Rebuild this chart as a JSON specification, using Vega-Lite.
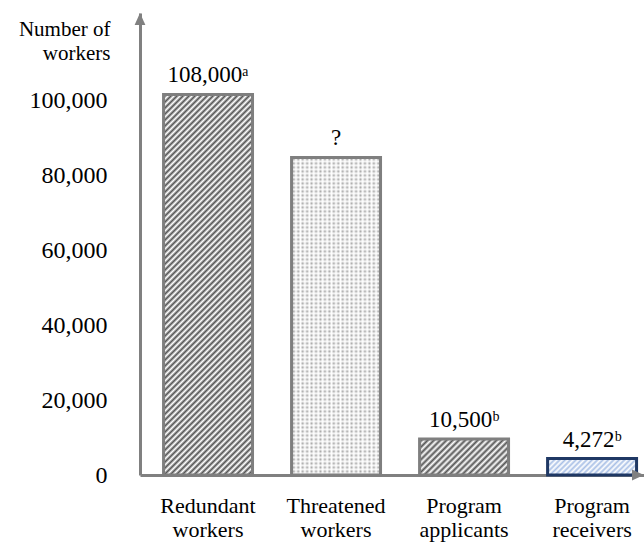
{
  "$schema": "https://vega.github.io/schema/vega-lite/v6.json",
  "width": 504,
  "height": 462,
  "autosize": {"type": "none"},
  "padding": {"left": 140, "top": 13, "right": 0, "bottom": 68},
  "background": "white",
  "config": {"view": {"stroke": null}, "font": "Liberation Serif, Times New Roman, DejaVu Serif, serif",
    "axisY": {"grid": false, "ticks": false,
      "domainColor": "#808080", "domainWidth": 3, "labelFontSize": 24, "labelPadding": 33, "labelColor": "#000",
      "labelFont": "Liberation Serif, Times New Roman, DejaVu Serif, serif",
      "titleAngle": 0, "titleAlign": "right", "titleBaseline": "alphabetic",
      "titleX": -30, "titleY": 22, "titleFontSize": 21, "titleFontWeight": "normal", "titleLineHeight": 24,
      "titleColor": "#000", "titleFont": "Liberation Serif, Times New Roman, DejaVu Serif, serif"}},
  "data": {"values": [
    {"category": "Redundant workers", "workers": 101500, "label": "108,000ᵃ"},
    {"category": "Threatened workers", "workers": 84700, "label": "?"},
    {"category": "Program applicants", "workers": 9600, "label": "10,500ᵇ"},
    {"category": "Program receivers", "workers": 4400, "label": "4,272ᵇ"}
  ]},
  "encoding": {
    "x": {
      "field": "category", "type": "nominal", "sort": null,
      "scale": {"paddingInner": 0.305, "paddingOuter": 0.121, "align": 0.76},
      "axis": {"title": null, "domainColor": "#808080", "domainWidth": 3, "ticks": false, "labelAngle": 0,
        "labelFont": "Liberation Serif, Times New Roman, DejaVu Serif, serif",
        "labelFontSize": 22, "labelColor": "#000", "labelPadding": 20, "labelLineHeight": 24,
        "labelExpr": "split(datum.label, ' ')", "labelBaseline": "top"}
    }
  },
  "layer": [
    {
      "mark": {"type": "bar", "strokeWidth": 0},
      "encoding": {
        "y": {"field": "workers", "type": "quantitative", "scale": {"domain": [0, 123200], "nice": false}, "axis": {"title": ["Number of", "workers"], "values": [0, 20000, 40000, 60000, 80000, 100000], "format": ",.0f"}},
        "fill": {
          "condition": [
            {"test": "datum.category === 'Redundant workers'", "value": {"gradient": "linear", "x1": 0, "y1": 0, "x2": 0.2795, "y2": 1.1958, "stops": [
              {"offset":0,"color":"#fff"},{"offset":0.00625,"color":"#555"},{"offset":0.0125,"color":"#fff"},{"offset":0.01875,"color":"#555"},{"offset":0.025,"color":"#fff"},{"offset":0.03125,"color":"#555"},{"offset":0.0375,"color":"#fff"},{"offset":0.04375,"color":"#555"},{"offset":0.05,"color":"#fff"},{"offset":0.05625,"color":"#555"},{"offset":0.0625,"color":"#fff"},{"offset":0.06875,"color":"#555"},{"offset":0.075,"color":"#fff"},{"offset":0.08125,"color":"#555"},{"offset":0.0875,"color":"#fff"},{"offset":0.09375,"color":"#555"},
              {"offset":0.1,"color":"#fff"},{"offset":0.10625,"color":"#555"},{"offset":0.1125,"color":"#fff"},{"offset":0.11875,"color":"#555"},{"offset":0.125,"color":"#fff"},{"offset":0.13125,"color":"#555"},{"offset":0.1375,"color":"#fff"},{"offset":0.14375,"color":"#555"},{"offset":0.15,"color":"#fff"},{"offset":0.15625,"color":"#555"},{"offset":0.1625,"color":"#fff"},{"offset":0.16875,"color":"#555"},{"offset":0.175,"color":"#fff"},{"offset":0.18125,"color":"#555"},{"offset":0.1875,"color":"#fff"},{"offset":0.19375,"color":"#555"},
              {"offset":0.2,"color":"#fff"},{"offset":0.20625,"color":"#555"},{"offset":0.2125,"color":"#fff"},{"offset":0.21875,"color":"#555"},{"offset":0.225,"color":"#fff"},{"offset":0.23125,"color":"#555"},{"offset":0.2375,"color":"#fff"},{"offset":0.24375,"color":"#555"},{"offset":0.25,"color":"#fff"},{"offset":0.25625,"color":"#555"},{"offset":0.2625,"color":"#fff"},{"offset":0.26875,"color":"#555"},{"offset":0.275,"color":"#fff"},{"offset":0.28125,"color":"#555"},{"offset":0.2875,"color":"#fff"},{"offset":0.29375,"color":"#555"},
              {"offset":0.3,"color":"#fff"},{"offset":0.30625,"color":"#555"},{"offset":0.3125,"color":"#fff"},{"offset":0.31875,"color":"#555"},{"offset":0.325,"color":"#fff"},{"offset":0.33125,"color":"#555"},{"offset":0.3375,"color":"#fff"},{"offset":0.34375,"color":"#555"},{"offset":0.35,"color":"#fff"},{"offset":0.35625,"color":"#555"},{"offset":0.3625,"color":"#fff"},{"offset":0.36875,"color":"#555"},{"offset":0.375,"color":"#fff"},{"offset":0.38125,"color":"#555"},{"offset":0.3875,"color":"#fff"},{"offset":0.39375,"color":"#555"},
              {"offset":0.4,"color":"#fff"},{"offset":0.40625,"color":"#555"},{"offset":0.4125,"color":"#fff"},{"offset":0.41875,"color":"#555"},{"offset":0.425,"color":"#fff"},{"offset":0.43125,"color":"#555"},{"offset":0.4375,"color":"#fff"},{"offset":0.44375,"color":"#555"},{"offset":0.45,"color":"#fff"},{"offset":0.45625,"color":"#555"},{"offset":0.4625,"color":"#fff"},{"offset":0.46875,"color":"#555"},{"offset":0.475,"color":"#fff"},{"offset":0.48125,"color":"#555"},{"offset":0.4875,"color":"#fff"},{"offset":0.49375,"color":"#555"},
              {"offset":0.5,"color":"#fff"},{"offset":0.50625,"color":"#555"},{"offset":0.5125,"color":"#fff"},{"offset":0.51875,"color":"#555"},{"offset":0.525,"color":"#fff"},{"offset":0.53125,"color":"#555"},{"offset":0.5375,"color":"#fff"},{"offset":0.54375,"color":"#555"},{"offset":0.55,"color":"#fff"},{"offset":0.55625,"color":"#555"},{"offset":0.5625,"color":"#fff"},{"offset":0.56875,"color":"#555"},{"offset":0.575,"color":"#fff"},{"offset":0.58125,"color":"#555"},{"offset":0.5875,"color":"#fff"},{"offset":0.59375,"color":"#555"},
              {"offset":0.6,"color":"#fff"},{"offset":0.60625,"color":"#555"},{"offset":0.6125,"color":"#fff"},{"offset":0.61875,"color":"#555"},{"offset":0.625,"color":"#fff"},{"offset":0.63125,"color":"#555"},{"offset":0.6375,"color":"#fff"},{"offset":0.64375,"color":"#555"},{"offset":0.65,"color":"#fff"},{"offset":0.65625,"color":"#555"},{"offset":0.6625,"color":"#fff"},{"offset":0.66875,"color":"#555"},{"offset":0.675,"color":"#fff"},{"offset":0.68125,"color":"#555"},{"offset":0.6875,"color":"#fff"},{"offset":0.69375,"color":"#555"},
              {"offset":0.7,"color":"#fff"},{"offset":0.70625,"color":"#555"},{"offset":0.7125,"color":"#fff"},{"offset":0.71875,"color":"#555"},{"offset":0.725,"color":"#fff"},{"offset":0.73125,"color":"#555"},{"offset":0.7375,"color":"#fff"},{"offset":0.74375,"color":"#555"},{"offset":0.75,"color":"#fff"},{"offset":0.75625,"color":"#555"},{"offset":0.7625,"color":"#fff"},{"offset":0.76875,"color":"#555"},{"offset":0.775,"color":"#fff"},{"offset":0.78125,"color":"#555"},{"offset":0.7875,"color":"#fff"},{"offset":0.79375,"color":"#555"},
              {"offset":0.8,"color":"#fff"},{"offset":0.80625,"color":"#555"},{"offset":0.8125,"color":"#fff"},{"offset":0.81875,"color":"#555"},{"offset":0.825,"color":"#fff"},{"offset":0.83125,"color":"#555"},{"offset":0.8375,"color":"#fff"},{"offset":0.84375,"color":"#555"},{"offset":0.85,"color":"#fff"},{"offset":0.85625,"color":"#555"},{"offset":0.8625,"color":"#fff"},{"offset":0.86875,"color":"#555"},{"offset":0.875,"color":"#fff"},{"offset":0.88125,"color":"#555"},{"offset":0.8875,"color":"#fff"},{"offset":0.89375,"color":"#555"},
              {"offset":0.9,"color":"#fff"},{"offset":0.90625,"color":"#555"},{"offset":0.9125,"color":"#fff"},{"offset":0.91875,"color":"#555"},{"offset":0.925,"color":"#fff"},{"offset":0.93125,"color":"#555"},{"offset":0.9375,"color":"#fff"},{"offset":0.94375,"color":"#555"},{"offset":0.95,"color":"#fff"},{"offset":0.95625,"color":"#555"},{"offset":0.9625,"color":"#fff"},{"offset":0.96875,"color":"#555"},{"offset":0.975,"color":"#fff"},{"offset":0.98125,"color":"#555"},{"offset":0.9875,"color":"#fff"},{"offset":0.99375,"color":"#555"},
              {"offset":1,"color":"#fff"}]}},
            {"test": "datum.category === 'Threatened workers'", "value": {"gradient": "linear", "x1": 0, "y1": 0, "x2": 1, "y2": 0, "stops": [
              {"offset":0,"color":"#fff"},{"offset":0.025,"color":"#a8a8a8"},{"offset":0.05,"color":"#fff"},{"offset":0.075,"color":"#a8a8a8"},
              {"offset":0.1,"color":"#fff"},{"offset":0.125,"color":"#a8a8a8"},{"offset":0.15,"color":"#fff"},{"offset":0.175,"color":"#a8a8a8"},
              {"offset":0.2,"color":"#fff"},{"offset":0.225,"color":"#a8a8a8"},{"offset":0.25,"color":"#fff"},{"offset":0.275,"color":"#a8a8a8"},
              {"offset":0.3,"color":"#fff"},{"offset":0.325,"color":"#a8a8a8"},{"offset":0.35,"color":"#fff"},{"offset":0.375,"color":"#a8a8a8"},
              {"offset":0.4,"color":"#fff"},{"offset":0.425,"color":"#a8a8a8"},{"offset":0.45,"color":"#fff"},{"offset":0.475,"color":"#a8a8a8"},
              {"offset":0.5,"color":"#fff"},{"offset":0.525,"color":"#a8a8a8"},{"offset":0.55,"color":"#fff"},{"offset":0.575,"color":"#a8a8a8"},
              {"offset":0.6,"color":"#fff"},{"offset":0.625,"color":"#a8a8a8"},{"offset":0.65,"color":"#fff"},{"offset":0.675,"color":"#a8a8a8"},
              {"offset":0.7,"color":"#fff"},{"offset":0.725,"color":"#a8a8a8"},{"offset":0.75,"color":"#fff"},{"offset":0.775,"color":"#a8a8a8"},
              {"offset":0.8,"color":"#fff"},{"offset":0.825,"color":"#a8a8a8"},{"offset":0.85,"color":"#fff"},{"offset":0.875,"color":"#a8a8a8"},
              {"offset":0.9,"color":"#fff"},{"offset":0.925,"color":"#a8a8a8"},{"offset":0.95,"color":"#fff"},{"offset":0.975,"color":"#a8a8a8"},
              {"offset":1,"color":"#fff"}]}},
            {"test": "datum.category === 'Program applicants'", "value": {"gradient": "linear", "x1": 0, "y1": 0, "x2": 1.2075, "y2": 0.4886, "stops": [
              {"offset":0,"color":"#fff"},{"offset":0.025,"color":"#555"},{"offset":0.05,"color":"#fff"},{"offset":0.075,"color":"#555"},
              {"offset":0.1,"color":"#fff"},{"offset":0.125,"color":"#555"},{"offset":0.15,"color":"#fff"},{"offset":0.175,"color":"#555"},
              {"offset":0.2,"color":"#fff"},{"offset":0.225,"color":"#555"},{"offset":0.25,"color":"#fff"},{"offset":0.275,"color":"#555"},
              {"offset":0.3,"color":"#fff"},{"offset":0.325,"color":"#555"},{"offset":0.35,"color":"#fff"},{"offset":0.375,"color":"#555"},
              {"offset":0.4,"color":"#fff"},{"offset":0.425,"color":"#555"},{"offset":0.45,"color":"#fff"},{"offset":0.475,"color":"#555"},
              {"offset":0.5,"color":"#fff"},{"offset":0.525,"color":"#555"},{"offset":0.55,"color":"#fff"},{"offset":0.575,"color":"#555"},
              {"offset":0.6,"color":"#fff"},{"offset":0.625,"color":"#555"},{"offset":0.65,"color":"#fff"},{"offset":0.675,"color":"#555"},
              {"offset":0.7,"color":"#fff"},{"offset":0.725,"color":"#555"},{"offset":0.75,"color":"#fff"},{"offset":0.775,"color":"#555"},
              {"offset":0.8,"color":"#fff"},{"offset":0.825,"color":"#555"},{"offset":0.85,"color":"#fff"},{"offset":0.875,"color":"#555"},
              {"offset":0.9,"color":"#fff"},{"offset":0.925,"color":"#555"},{"offset":0.95,"color":"#fff"},{"offset":0.975,"color":"#555"},
              {"offset":1,"color":"#fff"}]}},
            {"test": "datum.category === 'Program receivers'", "value": {"gradient": "linear", "x1": 0, "y1": 0, "x2": 1.1736, "y2": 0.2177, "stops": [
              {"offset":0,"color":"#fff"},{"offset":0.025,"color":"#a9c0e6"},{"offset":0.05,"color":"#fff"},{"offset":0.075,"color":"#a9c0e6"},
              {"offset":0.1,"color":"#fff"},{"offset":0.125,"color":"#a9c0e6"},{"offset":0.15,"color":"#fff"},{"offset":0.175,"color":"#a9c0e6"},
              {"offset":0.2,"color":"#fff"},{"offset":0.225,"color":"#a9c0e6"},{"offset":0.25,"color":"#fff"},{"offset":0.275,"color":"#a9c0e6"},
              {"offset":0.3,"color":"#fff"},{"offset":0.325,"color":"#a9c0e6"},{"offset":0.35,"color":"#fff"},{"offset":0.375,"color":"#a9c0e6"},
              {"offset":0.4,"color":"#fff"},{"offset":0.425,"color":"#a9c0e6"},{"offset":0.45,"color":"#fff"},{"offset":0.475,"color":"#a9c0e6"},
              {"offset":0.5,"color":"#fff"},{"offset":0.525,"color":"#a9c0e6"},{"offset":0.55,"color":"#fff"},{"offset":0.575,"color":"#a9c0e6"},
              {"offset":0.6,"color":"#fff"},{"offset":0.625,"color":"#a9c0e6"},{"offset":0.65,"color":"#fff"},{"offset":0.675,"color":"#a9c0e6"},
              {"offset":0.7,"color":"#fff"},{"offset":0.725,"color":"#a9c0e6"},{"offset":0.75,"color":"#fff"},{"offset":0.775,"color":"#a9c0e6"},
              {"offset":0.8,"color":"#fff"},{"offset":0.825,"color":"#a9c0e6"},{"offset":0.85,"color":"#fff"},{"offset":0.875,"color":"#a9c0e6"},
              {"offset":0.9,"color":"#fff"},{"offset":0.925,"color":"#a9c0e6"},{"offset":0.95,"color":"#fff"},{"offset":0.975,"color":"#a9c0e6"},
              {"offset":1,"color":"#fff"}]}}
          ],
          "value": "#e0e0e0"
        }
      }
    },
    {
      "mark": {"type": "bar", "strokeWidth": 0},
      "encoding": {
        "y": {"field": "workers", "type": "quantitative", "scale": {"domain": [0, 123200], "nice": false}, "axis": {"title": ["Number of", "workers"], "values": [0, 20000, 40000, 60000, 80000, 100000], "format": ",.0f"}},
        "fill": {
          "condition": {"test": "datum.category === 'Threatened workers'", "value": {"gradient": "linear", "x1": 0, "y1": 0, "x2": 0, "y2": 1.0076, "stops": [
              {"offset":0,"color":"rgba(255,255,255,0.85)"},{"offset":0.00625,"color":"rgba(255,255,255,0)"},{"offset":0.0125,"color":"rgba(255,255,255,0.85)"},{"offset":0.01875,"color":"rgba(255,255,255,0)"},{"offset":0.025,"color":"rgba(255,255,255,0.85)"},{"offset":0.03125,"color":"rgba(255,255,255,0)"},{"offset":0.0375,"color":"rgba(255,255,255,0.85)"},{"offset":0.04375,"color":"rgba(255,255,255,0)"},{"offset":0.05,"color":"rgba(255,255,255,0.85)"},{"offset":0.05625,"color":"rgba(255,255,255,0)"},{"offset":0.0625,"color":"rgba(255,255,255,0.85)"},{"offset":0.06875,"color":"rgba(255,255,255,0)"},{"offset":0.075,"color":"rgba(255,255,255,0.85)"},{"offset":0.08125,"color":"rgba(255,255,255,0)"},{"offset":0.0875,"color":"rgba(255,255,255,0.85)"},{"offset":0.09375,"color":"rgba(255,255,255,0)"},
              {"offset":0.1,"color":"rgba(255,255,255,0.85)"},{"offset":0.10625,"color":"rgba(255,255,255,0)"},{"offset":0.1125,"color":"rgba(255,255,255,0.85)"},{"offset":0.11875,"color":"rgba(255,255,255,0)"},{"offset":0.125,"color":"rgba(255,255,255,0.85)"},{"offset":0.13125,"color":"rgba(255,255,255,0)"},{"offset":0.1375,"color":"rgba(255,255,255,0.85)"},{"offset":0.14375,"color":"rgba(255,255,255,0)"},{"offset":0.15,"color":"rgba(255,255,255,0.85)"},{"offset":0.15625,"color":"rgba(255,255,255,0)"},{"offset":0.1625,"color":"rgba(255,255,255,0.85)"},{"offset":0.16875,"color":"rgba(255,255,255,0)"},{"offset":0.175,"color":"rgba(255,255,255,0.85)"},{"offset":0.18125,"color":"rgba(255,255,255,0)"},{"offset":0.1875,"color":"rgba(255,255,255,0.85)"},{"offset":0.19375,"color":"rgba(255,255,255,0)"},
              {"offset":0.2,"color":"rgba(255,255,255,0.85)"},{"offset":0.20625,"color":"rgba(255,255,255,0)"},{"offset":0.2125,"color":"rgba(255,255,255,0.85)"},{"offset":0.21875,"color":"rgba(255,255,255,0)"},{"offset":0.225,"color":"rgba(255,255,255,0.85)"},{"offset":0.23125,"color":"rgba(255,255,255,0)"},{"offset":0.2375,"color":"rgba(255,255,255,0.85)"},{"offset":0.24375,"color":"rgba(255,255,255,0)"},{"offset":0.25,"color":"rgba(255,255,255,0.85)"},{"offset":0.25625,"color":"rgba(255,255,255,0)"},{"offset":0.2625,"color":"rgba(255,255,255,0.85)"},{"offset":0.26875,"color":"rgba(255,255,255,0)"},{"offset":0.275,"color":"rgba(255,255,255,0.85)"},{"offset":0.28125,"color":"rgba(255,255,255,0)"},{"offset":0.2875,"color":"rgba(255,255,255,0.85)"},{"offset":0.29375,"color":"rgba(255,255,255,0)"},
              {"offset":0.3,"color":"rgba(255,255,255,0.85)"},{"offset":0.30625,"color":"rgba(255,255,255,0)"},{"offset":0.3125,"color":"rgba(255,255,255,0.85)"},{"offset":0.31875,"color":"rgba(255,255,255,0)"},{"offset":0.325,"color":"rgba(255,255,255,0.85)"},{"offset":0.33125,"color":"rgba(255,255,255,0)"},{"offset":0.3375,"color":"rgba(255,255,255,0.85)"},{"offset":0.34375,"color":"rgba(255,255,255,0)"},{"offset":0.35,"color":"rgba(255,255,255,0.85)"},{"offset":0.35625,"color":"rgba(255,255,255,0)"},{"offset":0.3625,"color":"rgba(255,255,255,0.85)"},{"offset":0.36875,"color":"rgba(255,255,255,0)"},{"offset":0.375,"color":"rgba(255,255,255,0.85)"},{"offset":0.38125,"color":"rgba(255,255,255,0)"},{"offset":0.3875,"color":"rgba(255,255,255,0.85)"},{"offset":0.39375,"color":"rgba(255,255,255,0)"},
              {"offset":0.4,"color":"rgba(255,255,255,0.85)"},{"offset":0.40625,"color":"rgba(255,255,255,0)"},{"offset":0.4125,"color":"rgba(255,255,255,0.85)"},{"offset":0.41875,"color":"rgba(255,255,255,0)"},{"offset":0.425,"color":"rgba(255,255,255,0.85)"},{"offset":0.43125,"color":"rgba(255,255,255,0)"},{"offset":0.4375,"color":"rgba(255,255,255,0.85)"},{"offset":0.44375,"color":"rgba(255,255,255,0)"},{"offset":0.45,"color":"rgba(255,255,255,0.85)"},{"offset":0.45625,"color":"rgba(255,255,255,0)"},{"offset":0.4625,"color":"rgba(255,255,255,0.85)"},{"offset":0.46875,"color":"rgba(255,255,255,0)"},{"offset":0.475,"color":"rgba(255,255,255,0.85)"},{"offset":0.48125,"color":"rgba(255,255,255,0)"},{"offset":0.4875,"color":"rgba(255,255,255,0.85)"},{"offset":0.49375,"color":"rgba(255,255,255,0)"},
              {"offset":0.5,"color":"rgba(255,255,255,0.85)"},{"offset":0.50625,"color":"rgba(255,255,255,0)"},{"offset":0.5125,"color":"rgba(255,255,255,0.85)"},{"offset":0.51875,"color":"rgba(255,255,255,0)"},{"offset":0.525,"color":"rgba(255,255,255,0.85)"},{"offset":0.53125,"color":"rgba(255,255,255,0)"},{"offset":0.5375,"color":"rgba(255,255,255,0.85)"},{"offset":0.54375,"color":"rgba(255,255,255,0)"},{"offset":0.55,"color":"rgba(255,255,255,0.85)"},{"offset":0.55625,"color":"rgba(255,255,255,0)"},{"offset":0.5625,"color":"rgba(255,255,255,0.85)"},{"offset":0.56875,"color":"rgba(255,255,255,0)"},{"offset":0.575,"color":"rgba(255,255,255,0.85)"},{"offset":0.58125,"color":"rgba(255,255,255,0)"},{"offset":0.5875,"color":"rgba(255,255,255,0.85)"},{"offset":0.59375,"color":"rgba(255,255,255,0)"},
              {"offset":0.6,"color":"rgba(255,255,255,0.85)"},{"offset":0.60625,"color":"rgba(255,255,255,0)"},{"offset":0.6125,"color":"rgba(255,255,255,0.85)"},{"offset":0.61875,"color":"rgba(255,255,255,0)"},{"offset":0.625,"color":"rgba(255,255,255,0.85)"},{"offset":0.63125,"color":"rgba(255,255,255,0)"},{"offset":0.6375,"color":"rgba(255,255,255,0.85)"},{"offset":0.64375,"color":"rgba(255,255,255,0)"},{"offset":0.65,"color":"rgba(255,255,255,0.85)"},{"offset":0.65625,"color":"rgba(255,255,255,0)"},{"offset":0.6625,"color":"rgba(255,255,255,0.85)"},{"offset":0.66875,"color":"rgba(255,255,255,0)"},{"offset":0.675,"color":"rgba(255,255,255,0.85)"},{"offset":0.68125,"color":"rgba(255,255,255,0)"},{"offset":0.6875,"color":"rgba(255,255,255,0.85)"},{"offset":0.69375,"color":"rgba(255,255,255,0)"},
              {"offset":0.7,"color":"rgba(255,255,255,0.85)"},{"offset":0.70625,"color":"rgba(255,255,255,0)"},{"offset":0.7125,"color":"rgba(255,255,255,0.85)"},{"offset":0.71875,"color":"rgba(255,255,255,0)"},{"offset":0.725,"color":"rgba(255,255,255,0.85)"},{"offset":0.73125,"color":"rgba(255,255,255,0)"},{"offset":0.7375,"color":"rgba(255,255,255,0.85)"},{"offset":0.74375,"color":"rgba(255,255,255,0)"},{"offset":0.75,"color":"rgba(255,255,255,0.85)"},{"offset":0.75625,"color":"rgba(255,255,255,0)"},{"offset":0.7625,"color":"rgba(255,255,255,0.85)"},{"offset":0.76875,"color":"rgba(255,255,255,0)"},{"offset":0.775,"color":"rgba(255,255,255,0.85)"},{"offset":0.78125,"color":"rgba(255,255,255,0)"},{"offset":0.7875,"color":"rgba(255,255,255,0.85)"},{"offset":0.79375,"color":"rgba(255,255,255,0)"},
              {"offset":0.8,"color":"rgba(255,255,255,0.85)"},{"offset":0.80625,"color":"rgba(255,255,255,0)"},{"offset":0.8125,"color":"rgba(255,255,255,0.85)"},{"offset":0.81875,"color":"rgba(255,255,255,0)"},{"offset":0.825,"color":"rgba(255,255,255,0.85)"},{"offset":0.83125,"color":"rgba(255,255,255,0)"},{"offset":0.8375,"color":"rgba(255,255,255,0.85)"},{"offset":0.84375,"color":"rgba(255,255,255,0)"},{"offset":0.85,"color":"rgba(255,255,255,0.85)"},{"offset":0.85625,"color":"rgba(255,255,255,0)"},{"offset":0.8625,"color":"rgba(255,255,255,0.85)"},{"offset":0.86875,"color":"rgba(255,255,255,0)"},{"offset":0.875,"color":"rgba(255,255,255,0.85)"},{"offset":0.88125,"color":"rgba(255,255,255,0)"},{"offset":0.8875,"color":"rgba(255,255,255,0.85)"},{"offset":0.89375,"color":"rgba(255,255,255,0)"},
              {"offset":0.9,"color":"rgba(255,255,255,0.85)"},{"offset":0.90625,"color":"rgba(255,255,255,0)"},{"offset":0.9125,"color":"rgba(255,255,255,0.85)"},{"offset":0.91875,"color":"rgba(255,255,255,0)"},{"offset":0.925,"color":"rgba(255,255,255,0.85)"},{"offset":0.93125,"color":"rgba(255,255,255,0)"},{"offset":0.9375,"color":"rgba(255,255,255,0.85)"},{"offset":0.94375,"color":"rgba(255,255,255,0)"},{"offset":0.95,"color":"rgba(255,255,255,0.85)"},{"offset":0.95625,"color":"rgba(255,255,255,0)"},{"offset":0.9625,"color":"rgba(255,255,255,0.85)"},{"offset":0.96875,"color":"rgba(255,255,255,0)"},{"offset":0.975,"color":"rgba(255,255,255,0.85)"},{"offset":0.98125,"color":"rgba(255,255,255,0)"},{"offset":0.9875,"color":"rgba(255,255,255,0.85)"},{"offset":0.99375,"color":"rgba(255,255,255,0)"},
              {"offset":1,"color":"rgba(255,255,255,0.85)"}]}},
          "value": "transparent"
        }
      }
    },
    {
      "mark": {"type": "bar", "filled": false, "strokeWidth": 3},
      "encoding": {
        "y": {"field": "workers", "type": "quantitative", "scale": {"domain": [0, 123200], "nice": false}, "axis": {"title": ["Number of", "workers"], "values": [0, 20000, 40000, 60000, 80000, 100000], "format": ",.0f"}},
        "stroke": {"field": "category", "type": "nominal", "legend": null,
          "scale": {"domain": ["Redundant workers", "Threatened workers", "Program applicants", "Program receivers"],
            "range": ["#7f7f7f", "#7f7f7f", "#7f7f7f", "#1f3864"]}}
      }
    },
    {
      "mark": {"type": "text", "baseline": "alphabetic", "dy": -12, "fontSize": 23, "color": "#000",
        "font": "Liberation Serif, Times New Roman, DejaVu Serif, serif"},
      "encoding": {
        "y": {"field": "workers", "type": "quantitative", "scale": {"domain": [0, 123200], "nice": false}, "axis": {"title": ["Number of", "workers"], "values": [0, 20000, 40000, 60000, 80000, 100000], "format": ",.0f"}},
        "text": {"field": "label", "type": "nominal"}
      }
    },
    {
      "data": {"values": [{"axis": "y"}]},
      "mark": {"type": "point", "shape": "M0,-1L0.9,1L-0.9,1Z", "size": 144, "filled": true, "color": "#808080", "opacity": 1},
      "encoding": {"x": {"value": 0}, "y": {"datum": 121600, "type": "quantitative", "scale": {"domain": [0, 123200], "nice": false}, "axis": {"title": ["Number of", "workers"], "values": [0, 20000, 40000, 60000, 80000, 100000], "format": ",.0f"}}}
    },
    {
      "data": {"values": [{"axis": "x"}]},
      "mark": {"type": "point", "shape": "M1,0L-1,-0.9L-1,0.9Z", "size": 144, "filled": true, "color": "#808080", "opacity": 1},
      "encoding": {"x": {"value": 498}, "y": {"datum": 0, "type": "quantitative", "scale": {"domain": [0, 123200], "nice": false}, "axis": {"title": ["Number of", "workers"], "values": [0, 20000, 40000, 60000, 80000, 100000], "format": ",.0f"}}}
    }
  ]
}
